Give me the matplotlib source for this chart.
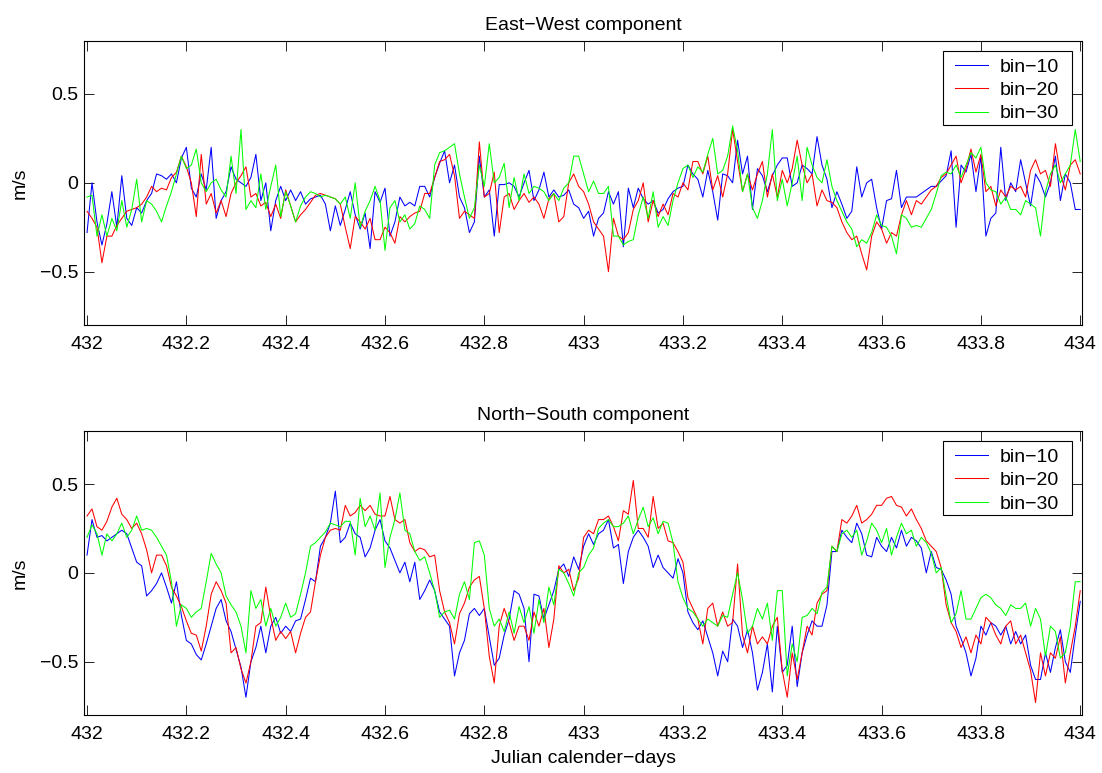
import matplotlib
matplotlib.use('Agg')
import matplotlib.pyplot as plt
from matplotlib.patches import Rectangle
import numpy as np

plt.rcParams['font.family'] = ['Liberation Sans', 'DejaVu Sans']

# time axis (Julian days), sampled every 0.01 day
days = np.round(432.0 + 0.01 * np.arange(201), 2)

# ---------------- East-West component (m/s) ----------------
ew_bin10 = [
    -0.28, 0.0, -0.22, -0.35, -0.23, -0.05, -0.25, 0.04, -0.2, -0.24, -0.14, -0.17, -0.1, -0.06, 0.05, 0.04, 0.02,
    0.05, 0.0, 0.14, 0.2, -0.03, -0.08, 0.05, -0.04, 0.2, -0.2, -0.1, -0.05, 0.09, 0.02, 0.0, -0.02, 0.03, 0.16,
    -0.1, 0.0, -0.27, -0.1, -0.02, -0.1, -0.04, -0.1, -0.05, -0.12, -0.09, -0.08, -0.07, -0.12, -0.27, -0.13,
    -0.24, -0.15, -0.05, -0.18, -0.26, -0.17, -0.37, -0.05, -0.11, -0.03, -0.3, -0.22, -0.08, -0.13, -0.11, -0.13,
    -0.02, -0.02, -0.08, 0.03, 0.11, 0.18, 0.0, 0.1, -0.08, -0.14, -0.28, -0.22, 0.15, -0.08, -0.04, -0.3, -0.01,
    -0.01, 0.0, -0.02, -0.08, 0.0, 0.07, -0.1, -0.04, 0.06, -0.08, -0.04, -0.08, -0.07, -0.04, -0.12, -0.14, -0.2,
    -0.16, -0.3, -0.2, -0.17, -0.05, -0.12, -0.05, -0.36, -0.03, -0.14, -0.03, -0.09, -0.12, -0.1, -0.17, -0.15,
    -0.09, -0.05, -0.03, -0.02, 0.1, 0.05, 0.02, -0.08, 0.07, -0.05, -0.21, 0.05, 0.04, 0.0, 0.24, 0.05, 0.15,
    -0.15, 0.08, 0.04, -0.05, 0.04, 0.1, 0.14, 0.14, -0.02, 0.0, 0.1, 0.08, 0.05, 0.26, 0.1, 0.02, -0.14,
    -0.05, -0.12, -0.2, -0.16, 0.09, -0.08, 0.0, 0.02, -0.14, -0.26, -0.1, -0.09, 0.07, -0.14, -0.08, -0.08, -0.08,
    -0.06, -0.04, -0.02, -0.02, 0.01, 0.04, 0.18, -0.25, 0.1, 0.06, 0.16, -0.05, 0.15, -0.3, -0.2, -0.17, 0.2,
    -0.1, 0.0, -0.05, 0.13, 0.0, -0.13, 0.05, 0.0, -0.08, 0.0, 0.15, -0.1, 0.05, 0.0, -0.15, -0.15,
]
ew_bin20 = [
    -0.16, -0.2, -0.25, -0.45, -0.3, -0.3, -0.24, -0.2, -0.16, -0.15, -0.14, -0.12, -0.08, -0.02, -0.05, -0.03,
    -0.04, 0.03, 0.06, 0.15, 0.09, 0.0, -0.19, 0.16, -0.12, -0.06, -0.17, -0.1, -0.19, -0.06, 0.0, 0.04, 0.09,
    -0.08, -0.06, -0.13, -0.11, -0.19, -0.12, -0.2, -0.04, -0.13, -0.22, -0.18, -0.15, -0.11, -0.07, -0.06, -0.07,
    -0.08, -0.09,
    -0.12, -0.25, -0.37, -0.19, -0.22, -0.26, -0.2, -0.32, -0.32, -0.25, -0.28, -0.34, -0.19, -0.22, -0.19, -0.17,
    -0.16, -0.06, -0.06, 0.03, 0.12, 0.13, 0.16, 0.04, -0.2, -0.16, -0.18, -0.2, 0.23, -0.08, -0.06, 0.06, -0.28,
    -0.08, -0.06, -0.15, -0.1, -0.06, -0.11, -0.08, -0.12, -0.2, -0.09, -0.06, -0.22, -0.19, 0.0, 0.05, -0.02, -0.05,
    -0.12, -0.22, -0.26, -0.3, -0.5, -0.2, -0.3, -0.32, -0.28, -0.15, -0.1, 0.0, -0.22, -0.1, -0.19, -0.12, -0.18,
    -0.06, -0.08, 0.0, -0.04, 0.12, 0.12, 0.05, 0.15, -0.04, 0.04, -0.08, 0.05, 0.3, 0.12, -0.05, 0.05, -0.04,
    0.05, 0.12, -0.08, 0.05, -0.08, 0.07, 0.0, 0.08, 0.24, 0.1, 0.0, 0.05, -0.13, -0.04, -0.1, -0.11,
    -0.14, -0.22, -0.28, -0.32, -0.3, -0.4, -0.49, -0.3, -0.22, -0.26, -0.34, -0.28, -0.3, -0.18, -0.1, -0.18, -0.1,
    -0.12, -0.08, -0.04, -0.02, 0.03, 0.05, 0.1, 0.15, 0.0, 0.08, 0.19, 0.06, 0.16, -0.05, -0.02, -0.13, -0.04,
    -0.08, -0.02, -0.04, -0.02, -0.08, 0.07, 0.13, 0.05, 0.07, -0.02, 0.22, 0.05, -0.04, 0.1, 0.13, 0.05,
]
ew_bin30 = [
    -0.08, -0.07, -0.3, -0.18, -0.3, -0.2, -0.27, -0.1, -0.25, -0.15, 0.02, -0.22, -0.1, -0.12, -0.16, -0.22, -0.13,
    -0.05, 0.05, 0.15, 0.08, 0.1, 0.19, 0.0, -0.05, 0.0, 0.02, -0.04, -0.08, 0.15, -0.06, 0.3, -0.15, -0.1, -0.14,
    0.05, -0.15, -0.02, 0.1, -0.19, -0.05, -0.13, -0.22, -0.13, -0.08, -0.05, -0.06, -0.08, -0.07, -0.08, -0.09,
    -0.12, -0.08, -0.2, 0.0, -0.25, -0.16, -0.1, -0.02, -0.1, -0.38, -0.14, -0.1, -0.22, -0.18, -0.26, -0.23, -0.13,
    -0.15, -0.2, 0.1, 0.17, 0.18, 0.2, 0.22, 0.05, -0.08, -0.2, -0.14, 0.1, -0.02, 0.22, 0.0, 0.03, 0.11, -0.14,
    0.03, -0.1, 0.05, -0.06, -0.02, -0.03, -0.05, -0.1, -0.06, -0.1, -0.03, 0.0, 0.15, 0.15, 0.05,
    -0.05, 0.01, -0.06, -0.06, -0.02, -0.3, -0.3, -0.35, -0.33, -0.32, -0.18, -0.08, -0.2, -0.05, -0.25, -0.19,
    -0.24, -0.1, 0.0, 0.08, 0.1, 0.03, 0.09, 0.06, 0.16, 0.25, 0.05, 0.07, 0.15, 0.32, 0.18, -0.05, 0.05, -0.14,
    -0.2, -0.1, 0.05, 0.3, -0.1, 0.02, -0.13, 0.0, 0.15, -0.1, 0.2, 0.1, 0.03, 0.0, 0.13, -0.02,
    -0.1, -0.16, -0.22, -0.26, -0.36, -0.32, -0.34, -0.28, -0.18, -0.24, -0.25, -0.3, -0.4, -0.18, -0.2, -0.25,
    -0.24, -0.25, -0.2, -0.15, -0.06, 0.04, 0.06, 0.05, 0.1, 0.03, 0.1, 0.17, 0.14, 0.2, 0.0, -0.04, -0.05, -0.12,
    -0.08, -0.15, -0.15, -0.18, -0.1, -0.12, -0.14, -0.3, -0.05, 0.05, 0.1, 0.0, 0.05, 0.1, 0.3, 0.12,
]

# ---------------- North-South component (m/s) ----------------
ns_bin10 = [
    0.1, 0.3, 0.2, 0.21, 0.18, 0.2, 0.22, 0.24, 0.22, 0.14, 0.06, 0.04, -0.13, -0.1, -0.06, 0.0, -0.08, -0.17,
    -0.05, -0.24, -0.38, -0.4, -0.46, -0.49, -0.4, -0.3, -0.2, -0.15, -0.27, -0.33, -0.43, -0.53, -0.7, -0.5,
    -0.42, -0.3, -0.45, -0.3, -0.25, -0.34, -0.3, -0.33, -0.27, -0.26, -0.15, -0.03, -0.05, 0.15, 0.2, 0.28, 0.46,
    0.17, 0.2, 0.28, 0.22, 0.2, 0.09, 0.14, 0.24, 0.3, 0.18, 0.14, 0.07, 0.0, 0.06, -0.05, 0.06, -0.15, -0.1,
    -0.04, -0.1, -0.22, -0.26, -0.3, -0.58, -0.45, -0.38, -0.23, -0.2, -0.24, -0.2, -0.36, -0.52, -0.48, -0.35,
    -0.26, -0.1, -0.12, -0.2, -0.5, -0.12, -0.13, -0.26, -0.18, -0.1, 0.02, 0.05, -0.02, 0.09, 0.02, 0.15,
    0.22, 0.16, 0.22, 0.24, 0.3, 0.14, 0.16, -0.06, 0.12, 0.2, 0.24, 0.2, 0.15, 0.03, 0.1, 0.03, 0.0, -0.03, 0.08,
    0.0, -0.22, -0.28, -0.32, -0.27, -0.36, -0.45, -0.58, -0.44, -0.5, -0.26, -0.3, -0.42, -0.32, -0.45, -0.66,
    -0.56, -0.4, -0.67, -0.3, -0.56, -0.52, -0.3, -0.64, -0.45, -0.35, -0.27, -0.3, -0.3, -0.18, 0.12,
    0.12, 0.24, 0.2, 0.17, 0.28, 0.22, 0.1, 0.09, 0.2, 0.15, 0.12, 0.2, 0.14, 0.24, 0.15, 0.2, 0.18, 0.14, 0.0,
    0.12, 0.03, 0.02, -0.04, -0.12, -0.3, -0.37, -0.45, -0.58, -0.48, -0.3, -0.35, -0.28, -0.3, -0.35, -0.3, -0.4,
    -0.33, -0.4, -0.35, -0.52, -0.6, -0.6, -0.45, -0.56, -0.42, -0.32, -0.5, -0.56, -0.35, -0.16,
]
ns_bin20 = [
    0.32, 0.36, 0.26, 0.24, 0.29, 0.37, 0.42, 0.33, 0.3, 0.25, 0.28, 0.22, 0.13, 0.0, 0.1, 0.1, 0.04, -0.08,
    -0.13, -0.19, -0.27, -0.34, -0.35, -0.44, -0.3, -0.12, -0.05, -0.1, -0.17, -0.45, -0.42, -0.54, -0.62, -0.5,
    -0.3, -0.28, -0.08, -0.25, -0.38, -0.33, -0.37, -0.33, -0.45, -0.34, -0.25, -0.22, -0.05, 0.1, 0.2, 0.24, 0.25,
    0.24, 0.38, 0.32, 0.34, 0.38, 0.35, 0.38, 0.33, 0.32, 0.32, 0.43, 0.3, 0.28, 0.3, 0.17, 0.12, 0.14, 0.13,
    0.09, 0.1, -0.1, -0.22, -0.28, -0.4, -0.23, -0.17, -0.08, -0.04, -0.02, -0.2, -0.47, -0.62, -0.3, -0.2, -0.28,
    -0.38, -0.3, -0.3, -0.38, -0.22, -0.3, -0.2, -0.42, -0.26, 0.04, 0.0, 0.02, -0.1, -0.03, 0.2,
    0.24, 0.22, 0.3, 0.3, 0.32, 0.26, 0.18, 0.35, 0.33, 0.52, 0.25, 0.25, 0.2, 0.43, 0.25, 0.28, 0.18, 0.17, 0.12,
    0.06, -0.14, -0.2, -0.26, -0.4, -0.2, -0.17, -0.3, -0.22, -0.3, -0.28, 0.05, -0.35, -0.45, -0.3, -0.4, -0.36,
    -0.4, -0.3, -0.25, -0.55, -0.7, -0.45, -0.6, -0.45, -0.3, -0.35, -0.17, -0.12, -0.1, 0.15,
    0.12, 0.3, 0.28, 0.32, 0.38, 0.28, 0.3, 0.33, 0.38, 0.38, 0.42, 0.43, 0.38, 0.37, 0.32, 0.36, 0.3, 0.25, 0.18,
    0.15, 0.12, 0.03, -0.18, -0.28, -0.33, -0.42, -0.36, -0.45, -0.35, -0.4, -0.25, -0.28, -0.35, -0.4, -0.3,
    -0.27, -0.4, -0.35, -0.45, -0.55, -0.73, -0.45, -0.58, -0.45, -0.48, -0.36, -0.62, -0.45, -0.3, -0.1,
]
ns_bin30 = [
    0.2, 0.27, 0.22, 0.1, 0.22, 0.18, 0.22, 0.28, 0.2, 0.24, 0.32, 0.24, 0.25, 0.24, 0.2, 0.15, 0.1, -0.05, -0.3,
    -0.18, -0.2, -0.25, -0.22, -0.2, -0.05, 0.11, 0.05, 0.0, -0.13, -0.18, -0.22, -0.3, -0.45, -0.1, -0.2, -0.15,
    -0.3, -0.2, -0.3, -0.25, -0.17, -0.25, -0.23, -0.12, 0.0, 0.15, 0.17, 0.2, 0.23, 0.28, 0.27,
    0.26, 0.29, 0.29, 0.1, 0.42, 0.26, 0.32, 0.24, 0.45, 0.03, 0.2, 0.3, 0.45, 0.24, 0.22, 0.12, 0.07, 0.09, 0.0,
    -0.1, -0.25, -0.22, -0.21, -0.26, -0.12, -0.05, -0.15, 0.17, 0.18, 0.1, -0.2, -0.3, -0.26, -0.33, -0.22, -0.34,
    -0.19, -0.28, -0.19, -0.34, -0.15, -0.28, -0.08, -0.18, 0.02, 0.0, -0.06, -0.13, 0.0, 0.03,
    0.1, 0.14, 0.25, 0.28, 0.3, 0.26, 0.26, 0.28, 0.32, 0.22, 0.3, 0.37, 0.26, 0.31, 0.22, 0.29, 0.28, 0.17, -0.05,
    -0.14, -0.2, -0.22, -0.26, -0.3, -0.26, -0.28, -0.3, -0.24, -0.25, -0.12, 0.0, -0.15, -0.34, -0.3, -0.2, -0.26,
    -0.17, -0.38, -0.1, -0.1, -0.58, -0.4, -0.5, -0.25, -0.24, -0.2, -0.23, -0.11, -0.08, 0.15,
    0.12, 0.22, 0.24, 0.2, 0.24, 0.1, 0.18, 0.28, 0.24, 0.17, 0.25, 0.1, 0.2, 0.28, 0.22, 0.24, 0.15, 0.2, 0.17,
    0.11, 0.0, 0.03, -0.13, -0.28, -0.23, -0.1, -0.26, -0.26, -0.2, -0.14, -0.12, -0.14, -0.18, -0.2, -0.24, -0.18,
    -0.2, -0.2, -0.17, -0.3, -0.2, -0.26, -0.47, -0.3, -0.33, -0.48, -0.45, -0.3, -0.05, -0.05,
]

series_labels = ['bin\u221210', 'bin\u221220', 'bin\u221230']
series_colors = ['#0000ff', '#ff0000', '#00ff00']
titles = ['East\u2212West component', 'North\u2212South component']
xlabel_text = 'Julian calender\u2212days'
ylabel_text = 'm/s'
xticks = [432.0, 432.2, 432.4, 432.6, 432.8, 433.0, 433.2, 433.4, 433.6, 433.8, 434.0]
xticklabels = ['432', '432.2', '432.4', '432.6', '432.8', '433', '433.2', '433.4', '433.6', '433.8', '434']
yticks = [-0.5, 0.0, 0.5]
yticklabels = ['\u22120.5', '0', '0.5']

fig = plt.figure(figsize=(11.02, 7.73), dpi=100)
ax_top = fig.add_axes([0.0765, 0.5796, 0.9051, 0.3678])
ax_bot = fig.add_axes([0.0765, 0.0750, 0.9051, 0.3678])

panels = [
    (ax_top, [ew_bin10, ew_bin20, ew_bin30], titles[0]),
    (ax_bot, [ns_bin10, ns_bin20, ns_bin30], titles[1]),
]

for ax, data, title in panels:
    for vals, col, lab in zip(data, series_colors, series_labels):
        ax.plot(days, vals, color=col, lw=0.75, label=lab)
    ax.set_xlim(431.9945, 434.003)
    ax.set_ylim(-0.8, 0.8)
    ax.set_xticks(xticks)
    ax.set_xticklabels(xticklabels)
    ax.set_yticks(yticks)
    ax.set_yticklabels(yticklabels)
    ax.tick_params(axis='both', direction='in', length=7, width=0.6,
                   top=True, right=True, labelsize=14, colors='black')
    ax.tick_params(axis='x', pad=8)
    ax.tick_params(axis='y', pad=4.5)
    for sp in ax.spines.values():
        sp.set_linewidth(0.8)
    ax.set_title(title, fontsize=14, pad=7.5)
    ax.set_ylabel(ylabel_text, fontsize=14)
    ax.yaxis.set_label_coords(-0.0555, 0.5)

    # legend box (white, black edge) and legend entries on top of it
    box = Rectangle((0.861, 0.7035), 0.1293, 0.2603, transform=ax.transAxes,
                    facecolor='white', edgecolor='black', lw=0.8, zorder=5)
    ax.add_patch(box)
    leg = ax.legend(loc='upper left', bbox_to_anchor=(0.873, 0.9385),
                    borderaxespad=0, borderpad=0, frameon=False, fontsize=14,
                    handlelength=1.7, handletextpad=0.62, labelspacing=0.295)
    leg.set_zorder(6)

ax_bot.set_xlabel(xlabel_text, fontsize=14)
ax_bot.xaxis.set_label_coords(0.5, -0.123)

fig.savefig('out.png', dpi=100)
